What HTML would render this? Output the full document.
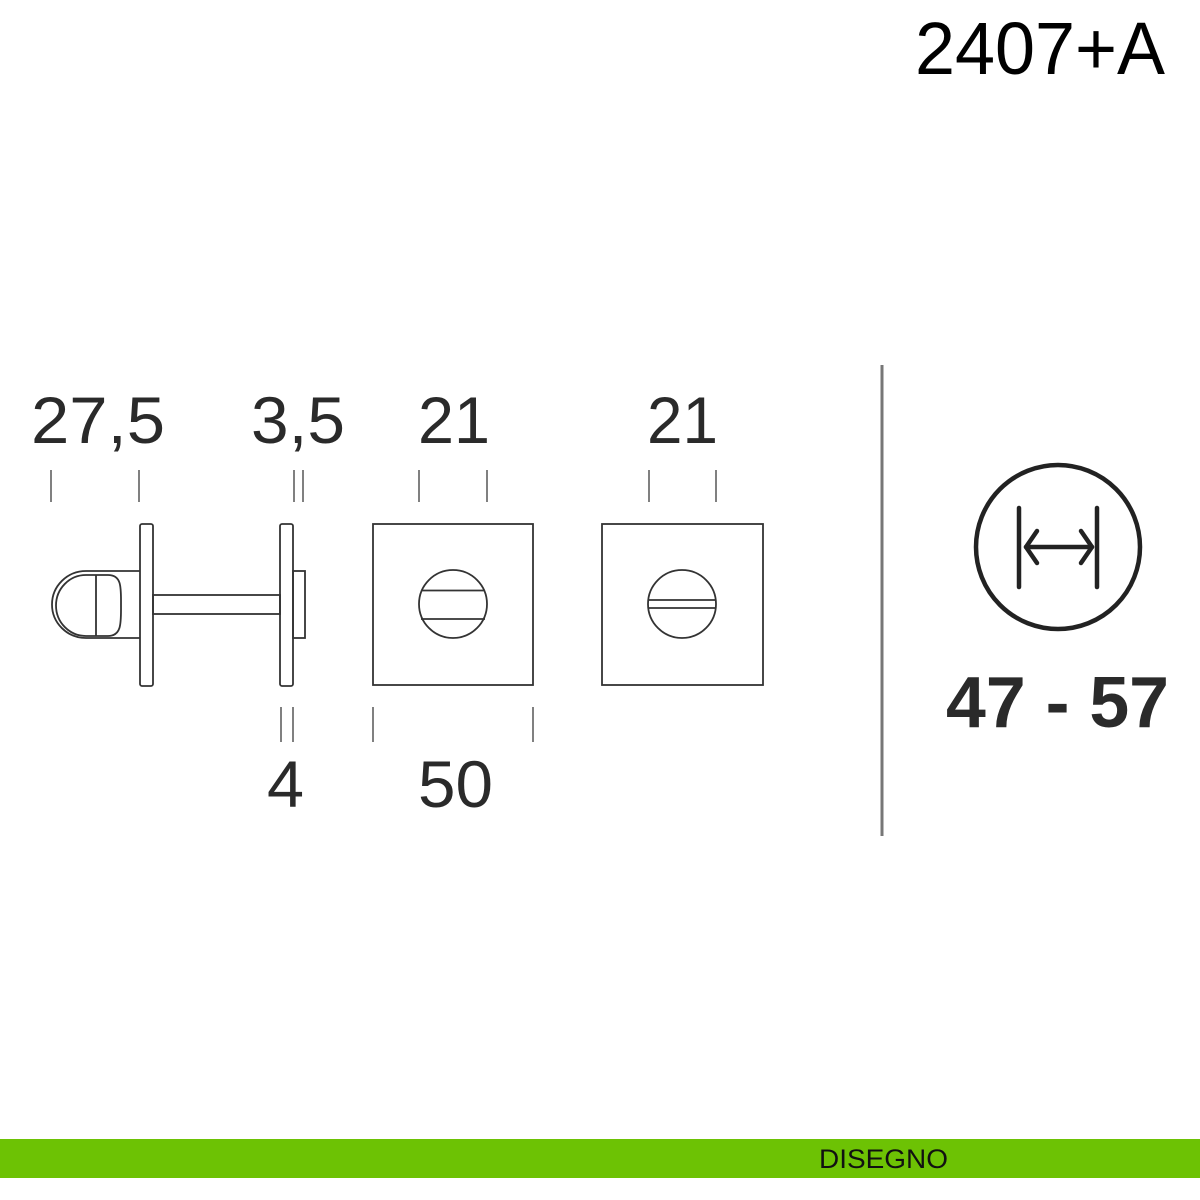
<!DOCTYPE html>
<html><head><meta charset="utf-8"><style>
html,body{margin:0;padding:0;background:#fff;width:1200px;height:1200px;overflow:hidden}
</style></head><body>
<svg width="1200" height="1200" viewBox="0 0 1200 1200" xmlns="http://www.w3.org/2000/svg" font-family="Liberation Sans, sans-serif">
<rect x="0" y="0" width="1200" height="1200" fill="#fff"/>
<text x="915" y="74" font-size="74" fill="#000" textLength="250" lengthAdjust="spacingAndGlyphs">2407+A</text>

<g fill="#2a2a2a" font-size="66">
<text x="31" y="443" textLength="134" lengthAdjust="spacingAndGlyphs">27,5</text>
<text x="251" y="443" textLength="94" lengthAdjust="spacingAndGlyphs">3,5</text>
<text x="418" y="443" textLength="72" lengthAdjust="spacingAndGlyphs">21</text>
<text x="647" y="443" textLength="71" lengthAdjust="spacingAndGlyphs">21</text>
<text x="267" y="807" textLength="37" lengthAdjust="spacingAndGlyphs">4</text>
<text x="418" y="807" textLength="75" lengthAdjust="spacingAndGlyphs">50</text>
</g>

<g stroke="#555" stroke-width="1.5">
<line x1="51" y1="470" x2="51" y2="502"/><line x1="139" y1="470" x2="139" y2="502"/>
<line x1="294" y1="470" x2="294" y2="502"/><line x1="303" y1="470" x2="303" y2="502"/>
<line x1="419" y1="470" x2="419" y2="502"/><line x1="487" y1="470" x2="487" y2="502"/>
<line x1="649" y1="470" x2="649" y2="502"/><line x1="716" y1="470" x2="716" y2="502"/>
<line x1="281" y1="707" x2="281" y2="742"/><line x1="293" y1="707" x2="293" y2="742"/>
<line x1="373" y1="707" x2="373" y2="742"/><line x1="533" y1="707" x2="533" y2="742"/>
</g>

<g fill="none" stroke="#333" stroke-width="1.8">
<rect x="140" y="524" width="13" height="162" rx="2"/>
<rect x="280" y="524" width="13" height="162" rx="2"/>
<rect x="293" y="571" width="12" height="67"/>
<rect x="153" y="595" width="127" height="19"/>
<path d="M140 571 L86 571 A34 33.5 0 0 0 86 638 L140 638"/>
<path d="M96 575 L86 575 A30 30.5 0 0 0 86 636 L108 636 C122 636 121 622 121 605 C121 588 122 575 108 575 Z"/>
<line x1="96" y1="575" x2="96" y2="636"/>
<rect x="373" y="524" width="160" height="161"/>
<circle cx="453" cy="604" r="34"/>
<line x1="421" y1="590.5" x2="485" y2="590.5"/><line x1="421" y1="619" x2="485" y2="619"/>
<rect x="602" y="524" width="161" height="161"/>
<circle cx="682" cy="604" r="34"/>
<line x1="648" y1="600" x2="716" y2="600"/><line x1="648" y1="608" x2="716" y2="608"/>
</g>

<line x1="882" y1="365" x2="882" y2="836" stroke="#777" stroke-width="3"/>

<g fill="none" stroke="#222" stroke-width="4.5" stroke-linecap="round" stroke-linejoin="round">
<circle cx="1058" cy="547" r="82"/>
<line x1="1019" y1="508" x2="1019" y2="587"/>
<line x1="1097" y1="508" x2="1097" y2="587"/>
<line x1="1026" y1="547" x2="1092" y2="547"/>
<polyline points="1037,531 1026,547 1037,563"/>
<polyline points="1081,531 1092,547 1081,563"/>
</g>

<text x="946" y="727" font-size="72" font-weight="bold" fill="#2a2a2a" textLength="223" lengthAdjust="spacingAndGlyphs">47 - 57</text>

<rect x="0" y="1139" width="1200" height="39" fill="#6dc204"/>
<text x="819" y="1168" font-size="27" fill="#111" textLength="129" lengthAdjust="spacingAndGlyphs">DISEGNO</text>
</svg>
</body></html>
